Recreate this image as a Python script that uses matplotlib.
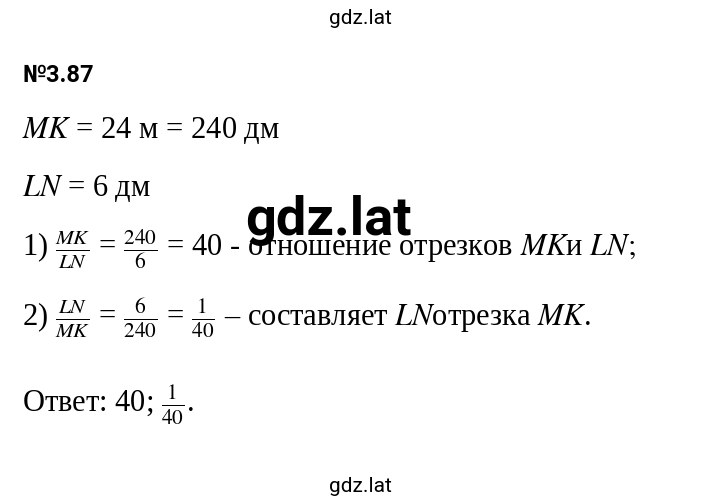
import matplotlib.pyplot as plt

plt.rcParams['font.family'] = ['Liberation Serif', 'DejaVu Serif']
plt.rcParams['mathtext.fontset'] = 'stix'

# строки решения: (y в пикселях сверху, текст)
lines = [
    (130, r'$MK$ = 24 м = 240 дм'),
    (188, r'$LN$ = 6 дм'),
    (250, r'1) $\frac{MK}{LN}$ = $\frac{240}{6}$ = 40 - отношение отрезков $MK$и $LN;$'),
    (318, r'2) $\frac{LN}{MK}$ = $\frac{6}{240}$ = $\frac{1}{40}$ – составляет $LN$отрезка $MK$.'),
    (405, r'Ответ: 40; $\frac{1}{40}$.'),
]
title = '№3.87'
watermark = 'gdz.lat'

fig = plt.figure(figsize=(7.2, 5), dpi=100)
W, H = 720, 500

def put(x, y, s, **kw):
    fig.text(x / W, 1 - y / H, s, va='center', **kw)

put(360, 18, watermark, ha='center', fontsize=15, family=['Roboto', 'DejaVu Sans'])
put(360, 486, watermark, ha='center', fontsize=15, family=['Roboto', 'DejaVu Sans'])
put(22, 75, title, fontsize=17, fontweight='bold', family=['Roboto', 'DejaVu Sans'])
for y, s in lines:
    put(22, y, s, fontsize=22)
put(328, 220, watermark, ha='center', fontsize=39, fontweight='bold',
    family=['Roboto', 'DejaVu Sans'], zorder=5)

fig.savefig('out.png', dpi=100, facecolor='white')
